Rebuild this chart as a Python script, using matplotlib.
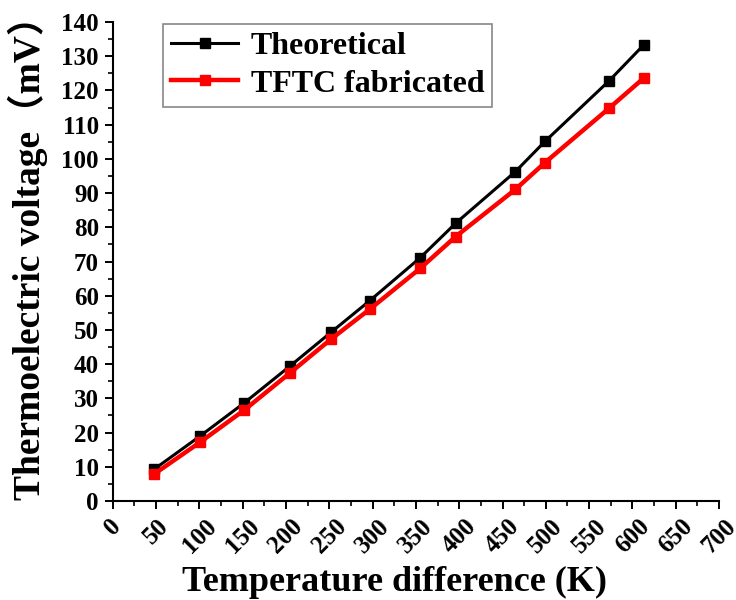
import numpy as np
import matplotlib
matplotlib.use("Agg")
import matplotlib.pyplot as plt
from matplotlib.ticker import MultipleLocator

# values
delta_t = [48, 101, 152, 205, 252, 297, 355, 396, 465, 499, 573, 613]
v_theory = [9.3, 19.0, 28.7, 39.5, 49.3, 58.6, 71.1, 81.2, 96.3, 105.1, 122.8, 133.3]
v_tftc = [7.9, 17.2, 26.6, 37.5, 47.3, 56.1, 68.0, 77.3, 91.1, 98.9, 114.8, 123.6]

x_ticks = list(range(0, 701, 50))
y_ticks = list(range(0, 141, 10))

plt.rcParams['font.family'] = ['Liberation Serif', 'Noto Sans CJK SC']
plt.rcParams['font.weight'] = 'bold'

fig = plt.figure(figsize=(7.36, 6.0), dpi=100)
ax = fig.add_axes([0.1531, 0.165, 0.8239, 0.7983])

ax.plot(delta_t, v_theory, color='black', lw=2.2, marker='s', ms=6.5,
        label='Theoretical')
ax.plot(delta_t, v_tftc, color='red', lw=3.2, marker='s', ms=7.5,
        label='TFTC fabricated')

ax.set_xlim(0, 700)
ax.set_ylim(0, 140)
ax.set_xticks(x_ticks)
ax.set_yticks(y_ticks)
ax.xaxis.set_minor_locator(MultipleLocator(25))
ax.yaxis.set_minor_locator(MultipleLocator(5))

for s in ['top', 'right']:
    ax.spines[s].set_visible(False)
for s in ['left', 'bottom']:
    ax.spines[s].set_linewidth(1.5)

ax.tick_params(which='major', direction='out', length=6, width=1.4,
               labelsize=18, pad=4)
ax.tick_params(which='minor', direction='out', length=3.5, width=1.2)
plt.setp(ax.get_xticklabels(), rotation=45, fontweight='bold')
plt.setp(ax.get_yticklabels(), fontweight='bold')

ax.set_xlabel('Temperature difference (K)', fontsize=26, fontweight='bold')
ax.xaxis.set_label_coords(0.464, -0.136)
ax.set_ylabel('Thermoelectric voltage（mV）', fontsize=27, fontweight='bold')
ax.yaxis.set_label_coords(-0.107, 0.527)

leg = ax.legend(loc='upper left', bbox_to_anchor=(0.083, 0.996),
                borderaxespad=0, fontsize=23, handlelength=2.1,
                fancybox=False, framealpha=1, borderpad=0.25,
                labelspacing=0.25, handletextpad=0.4)
leg.get_frame().set_edgecolor('#888888')
leg.get_frame().set_linewidth(1.2)

fig.savefig('out.png', dpi=100)
